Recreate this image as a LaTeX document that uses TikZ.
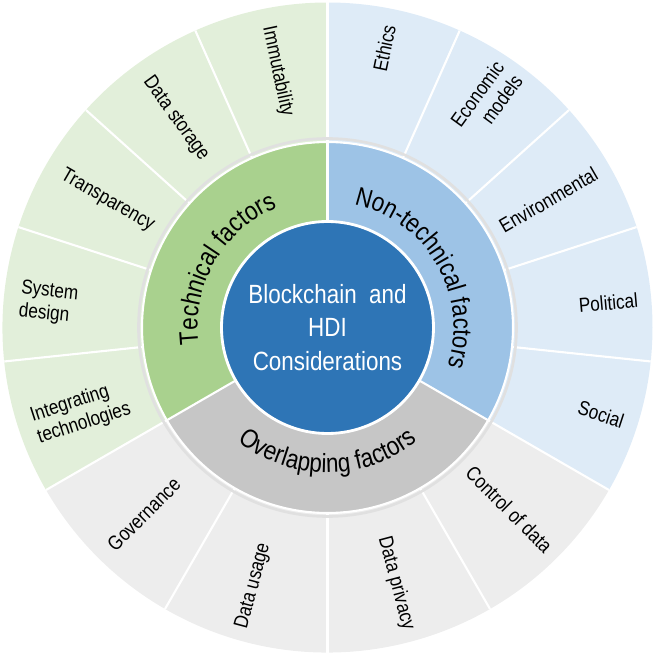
\documentclass[tikz,border=0pt]{standalone}
\usepackage{fontspec}
\setmainfont[FakeStretch=0.85]{Liberation Sans}
\usetikzlibrary{decorations.text}

\definecolor{corefill}{HTML}{2E75B6}
\definecolor{techmid}{HTML}{A9D18E}
\definecolor{techout}{HTML}{E2EFDA}
\definecolor{nonmid}{HTML}{9DC3E6}
\definecolor{nonout}{HTML}{DEEBF7}
\definecolor{overmid}{HTML}{C6C6C6}
\definecolor{overout}{HTML}{EDEDED}

\newcommand\ringfont{\fontsize{15}{18}\selectfont}

\begin{document}
\begin{tikzpicture}
\tikzstyle{outer}=[font=\fontsize{11.5}{13}\selectfont,inner sep=0pt];
\tikzstyle{gap}=[draw=white,line width=1.2pt];

\useasboundingbox (-6.55,-6.55) rectangle (6.55,6.55);

% outer ring
\fill[techout] (90:3.7) arc[start angle=90,end angle=210,radius=3.7] -- (210:6.5) arc[start angle=210,end angle=90,radius=6.5] -- cycle;
\fill[nonout] (-30:3.7) arc[start angle=-30,end angle=90,radius=3.7] -- (90:6.5) arc[start angle=90,end angle=-30,radius=6.5] -- cycle;
\fill[overout] (210:3.7) arc[start angle=210,end angle=330,radius=3.7] -- (330:6.5) arc[start angle=330,end angle=210,radius=6.5] -- cycle;

\draw[gap] (114:3.7) -- (114:6.5);
\draw[gap] (138:3.7) -- (138:6.5);
\draw[gap] (162:3.7) -- (162:6.5);
\draw[gap] (186:3.7) -- (186:6.5);
\draw[gap] (66:3.7) -- (66:6.5);
\draw[gap] (42:3.7) -- (42:6.5);
\draw[gap] (18:3.7) -- (18:6.5);
\draw[gap] (-6:3.7) -- (-6:6.5);
\draw[gap] (240:3.7) -- (240:6.5);
\draw[gap] (270:3.7) -- (270:6.5);
\draw[gap] (300:3.7) -- (300:6.5);
\draw[gap] (90:2.1) -- (90:6.5);
\draw[gap] (210:2.1) -- (210:6.5);
\draw[gap] (330:2.1) -- (330:6.5);

% middle ring
\draw[black!12,line width=1.5pt] (0,0) circle (3.78);
\fill[techmid] (90:2.1) arc[start angle=90,end angle=210,radius=2.1] -- (210:3.7) arc[start angle=210,end angle=90,radius=3.7] -- cycle;
\fill[nonmid] (-30:2.1) arc[start angle=-30,end angle=90,radius=2.1] -- (90:3.7) arc[start angle=90,end angle=-30,radius=3.7] -- cycle;
\fill[overmid] (210:2.1) arc[start angle=210,end angle=330,radius=2.1] -- (330:3.7) arc[start angle=330,end angle=210,radius=3.7] -- cycle;
\draw[gap] (90:2.1) -- (90:3.7);
\draw[gap] (210:2.1) -- (210:3.7);
\draw[gap] (330:2.1) -- (330:3.7);
\draw[gap] (0,0) circle (3.71);

% centre
\fill[corefill] (0,0) circle (2.12);
\draw[white,line width=1.6pt] (0,0) circle (2.12);
\node (core) [text=white,align=center,font=\fontsize{15}{19.3}\selectfont] at (0,0) {Blockchain\ \ and\\HDI\\Considerations};

% ring labels
\path[decorate,decoration={text along path,text align=center,text={|\ringfont|Technical factors}}]
  (210:2.6) arc[start angle=210,end angle=90,radius=2.6];
\path[decorate,decoration={text along path,text align=center,text={|\ringfont|Non-technical factors}}]
  (90:2.52) arc[start angle=90,end angle=-30,radius=2.52];
\path[decorate,decoration={text along path,text align=center,text={|\ringfont|Overlapping  factors}}]
  (210:2.9) arc[start angle=210,end angle=330,radius=2.9];

% outer labels
\node[outer,rotate=-78] (immut) at (101:5.22) {Immutability};
\node[outer,rotate=-54] (store) at (126:5.16) {Data storage};
\node[outer,rotate=-30] (transp) at (150:5.08) {Transparency};
\node[outer,rotate=-6,align=left] (sysdes) at (175:5.6) {System\\design};
\node[outer,rotate=18,align=left] (integ) at (199:5.22) {Integrating\\technologies};

\node[outer,rotate=78] (ethics) at (78.5:5.7) {Ethics};
\node[outer,rotate=54,align=right] (econ) at (55:5.54) {Economic\\models};
\node[outer,rotate=30] (envir) at (30:5.1) {Environmental};
\node[outer,rotate=5] (polit) at (5:5.64) {Political};
\node[outer,rotate=-18] (social) at (-17.6:5.74) {Social};

\node[outer,rotate=45] (govern) at (225.5:5.24) {Governance};
\node[outer,rotate=75] (usage) at (254:5.38) {Data usage};
\node[outer,rotate=-75] (privacy) at (285:5.3) {Data privacy};
\node[outer,rotate=-45] (control) at (315:5.14) {Control of data};
\end{tikzpicture}
\end{document}
